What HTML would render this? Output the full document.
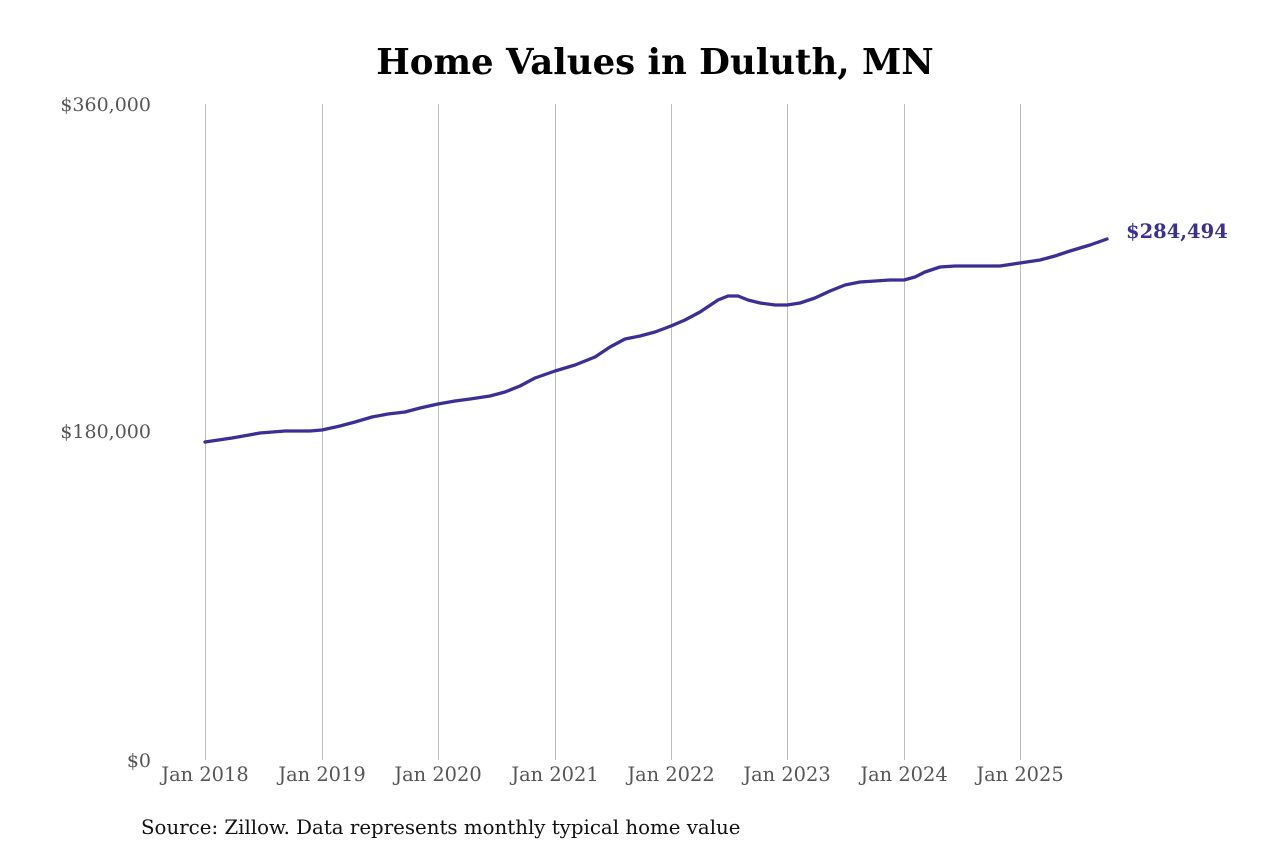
<!DOCTYPE html>
<html><head><meta charset="utf-8"><style>
html,body{margin:0;padding:0;background:#fff;}
svg{display:block;}
text{font-family:"DejaVu Serif","Liberation Serif",serif;}
</style></head><body>
<svg width="1280" height="853" viewBox="0 0 1280 853" xmlns="http://www.w3.org/2000/svg">
<rect width="1280" height="853" fill="#fff"/>
<text x="655" y="74" text-anchor="middle" font-size="35.5" font-weight="bold" fill="#000">Home Values in Duluth, MN</text>
<g stroke="#bdbdbd" stroke-width="1">
<line x1="205.5" y1="104" x2="205.5" y2="760"/>
<line x1="322.5" y1="104" x2="322.5" y2="760"/>
<line x1="438.5" y1="104" x2="438.5" y2="760"/>
<line x1="555.5" y1="104" x2="555.5" y2="760"/>
<line x1="671.5" y1="104" x2="671.5" y2="760"/>
<line x1="787.5" y1="104" x2="787.5" y2="760"/>
<line x1="904.5" y1="104" x2="904.5" y2="760"/>
<line x1="1020.5" y1="104" x2="1020.5" y2="760"/>
</g>
<g font-size="19" fill="#555" text-anchor="end">
<text x="151" y="111">$360,000</text>
<text x="151" y="438">$180,000</text>
<text x="151" y="767">$0</text>
</g>
<g font-size="19.4" fill="#555" text-anchor="middle">
<text x="205" y="781">Jan 2018</text>
<text x="322" y="781">Jan 2019</text>
<text x="438" y="781">Jan 2020</text>
<text x="555" y="781">Jan 2021</text>
<text x="671" y="781">Jan 2022</text>
<text x="787" y="781">Jan 2023</text>
<text x="904" y="781">Jan 2024</text>
<text x="1020" y="781">Jan 2025</text>
</g>
<polyline fill="none" stroke="#3b2f96" stroke-width="3.3" stroke-linejoin="round" stroke-linecap="round"
points="205,442 232,438 260,433 285,431 310,431 322,430 340,426 355,422 372,417 388,414 405,412 420,408 438,404 455,401 470,399 490,396 505,392 520,386 535,378 555,371 575,365 595,357 610,347 625,339 640,336 655,332 671,326 685,320 700,312 718,300 728,296 738,296 748,300 760,303 775,305 787,305 800,303 815,298 830,291 845,285 860,282 875,281 890,280 904,280 915,277 925,272 940,267 955,266 970,266 985,266 1000,266 1020,263 1040,260 1055,256 1070,251 1090,245 1107,239"/>
<text x="1126" y="238" font-size="19.5" font-weight="bold" fill="#3b2f96">$284,494</text>
<text x="141" y="834" font-size="19.8" fill="#111">Source: Zillow. Data represents monthly typical home value</text>
</svg>
</body></html>
